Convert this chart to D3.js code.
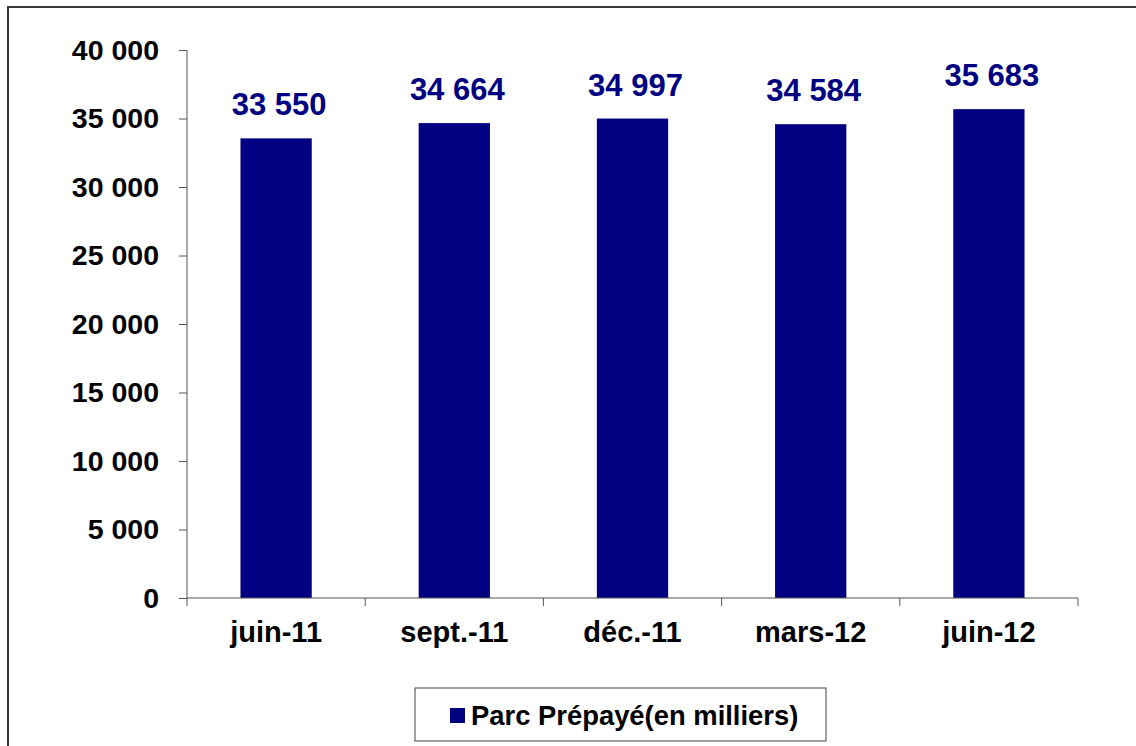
<!DOCTYPE html>
<html><head><meta charset="utf-8">
<script src="https://cdn.jsdelivr.net/npm/d3@7"></script>
<style>body{margin:0;background:#fff}svg{display:block}</style>
</head><body>
<svg id="c" width="1136" height="746"></svg>
<script>
const categories = ["juin-11","sept.-11","déc.-11","mars-12","juin-12"];
const values = [33550,34664,34997,34584,35683];
const valueLabels = ["33 550","34 664","34 997","34 584","35 683"];
const yTicks = [0,5000,10000,15000,20000,25000,30000,35000,40000];
const seriesName = "Parc Prépayé(en milliers)";

const svg = d3.select("#c");
const font = "Liberation Sans, Arial, sans-serif";
const navy = "#000080";

// outer border
svg.append("rect").attr("x",8).attr("y",7).attr("width",1140).attr("height",760)
  .attr("fill","#fff").attr("stroke","#3a3a3a").attr("stroke-width",2);

const x0 = 187, x1 = 1078, y0 = 598, y1 = 50;
const x = d3.scaleBand().domain(categories).range([x0,x1]).paddingInner(0).paddingOuter(0);
const y = d3.scaleLinear().domain([0,40000]).range([y0,y1]);
const fmt = d => d3.format(",")(d).replace(/,/g," ");

// bars
const bw = x.bandwidth()*0.4;
svg.selectAll("rect.bar").data(values).join("rect").attr("class","bar")
  .attr("x",(d,i)=>x(categories[i])+x.bandwidth()/2-bw/2)
  .attr("y",d=>y(d)).attr("width",bw).attr("height",d=>y0-y(d))
  .attr("fill",navy);

// y axis
const ya = svg.append("g").attr("transform",`translate(${x0},0)`)
  .call(d3.axisLeft(y).tickValues(yTicks).tickFormat(fmt).tickSize(8).tickPadding(20));
ya.select(".domain").attr("stroke","#555").attr("stroke-width",1).attr("d",`M0,${y1}V${y0}`);
ya.selectAll(".tick line").attr("stroke","#555");
ya.selectAll(".tick text").attr("font-family",font).attr("font-size",28.5)
  .attr("font-weight","bold").attr("fill","#000");

// x axis
const xa = svg.append("g").attr("transform",`translate(0,${y0})`);
xa.append("line").attr("x1",x0).attr("x2",x1).attr("y1",0).attr("y2",0).attr("stroke","#555");
const bounds = categories.map(c=>x(c)).concat([x1]);
xa.selectAll("line.t").data(bounds).join("line").attr("class","t")
  .attr("x1",d=>d).attr("x2",d=>d).attr("y1",0).attr("y2",8).attr("stroke","#555");
xa.selectAll("text").data(categories).join("text")
  .attr("x",d=>x(d)+x.bandwidth()/2).attr("y",44).attr("text-anchor","middle")
  .attr("font-family",font).attr("font-size",29).attr("font-weight","bold").attr("fill","#000")
  .text(d=>d);

// value labels
svg.selectAll("text.val").data(values).join("text").attr("class","val")
  .attr("x",(d,i)=>x(categories[i])+x.bandwidth()/2+3).attr("y",d=>y(d)-23)
  .attr("text-anchor","middle").attr("font-family",font).attr("font-size",31)
  .attr("font-weight","bold").attr("fill",navy)
  .text((d,i)=>valueLabels[i]);

// legend
const lg = svg.append("g");
lg.append("rect").attr("x",415).attr("y",688).attr("width",411).attr("height",53)
  .attr("fill","#fff").attr("stroke","#444").attr("stroke-width",1);
lg.append("rect").attr("x",450).attr("y",708).attr("width",15).attr("height",15).attr("fill",navy);
lg.append("text").attr("x",471).attr("y",725).attr("font-family",font).attr("font-size",27.4)
  .attr("font-weight","bold").attr("fill","#000").text(seriesName);
</script>
</body></html>
